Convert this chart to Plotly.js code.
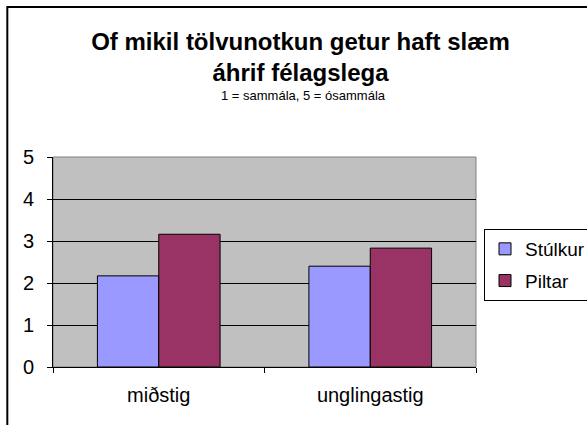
<!DOCTYPE html>
<html>
<head>
<meta charset="utf-8">
<script src="https://cdn.plot.ly/plotly-3.0.1.min.js"></script>
<style>
  body { margin: 0; background: #fff; }
  #chart { width: 587px; height: 425px; }
</style>
</head>
<body>
<div id="chart"></div>
<script>
var categories = ['miðstig', 'unglingastig'];
var seriesNames = ['Stúlkur', 'Piltar'];
var stulkur = [2.17, 2.40];
var piltar = [3.16, 2.83];
var yTicks = [0, 1, 2, 3, 4, 5];

const FONT = 'Liberation Sans, Arial, sans-serif';

var traces = [
	{
		x: categories,
		y: stulkur,
		name: seriesNames[0],
		type: 'bar',
		legendgroup: 'a',
		marker: { color: '#9999FF', line: { color: '#000', width: 1 } },
		hoverinfo: 'none',
	},
	{
		x: categories,
		y: piltar,
		name: seriesNames[1],
		type: 'bar',
		legendgroup: 'b',
		marker: { color: '#993366', line: { color: '#000', width: 1 } },
		hoverinfo: 'none',
	},
];

// plot area: x 53..476, y 157..367
const layout = {
	width: 587,
	height: 425,
	margin: { l: 53, r: 111, t: 157, b: 58, pad: 0, autoexpand: false },
	paper_bgcolor: '#fff',
	plot_bgcolor: '#C0C0C0',
	font: { family: FONT, size: 20, color: '#000' },
	title: {
		text: '<b>Of mikil tölvunotkun getur haft slæm<br>áhrif félagslega</b>',
		font: { family: FONT, size: 24, color: '#000' },
		xref: 'container',
		yref: 'container',
		x: 0.512,
		xanchor: 'center',
		y: 0.883,
		yanchor: 'middle',
	},
	annotations: [{
		text: '1 = sammála, 5 = ósammála',
		xref: 'paper',
		yref: 'paper',
		x: (303 - 53) / 423,
		y: (367 - 96) / 210,
		xanchor: 'center',
		yanchor: 'middle',
		showarrow: false,
		font: { family: FONT, size: 13, color: '#000' },
	}],
	barmode: 'group',
	bargap: 0.42,
	bargroupgap: 0,
	xaxis: {
		type: 'category',
		showgrid: false,
		showline: true,
		linecolor: '#000',
		linewidth: 1,
		ticks: 'outside',
		tickson: 'boundaries',
		ticklen: 5,
		tickcolor: '#000',
		ticklabelstandoff: 10,
		tickfont: { family: FONT, size: 20, color: '#000' },
		fixedrange: true,
	},
	yaxis: {
		range: [0, 5],
		tickvals: yTicks,
		showgrid: true,
		gridcolor: '#000',
		gridwidth: 1,
		zeroline: false,
		showline: true,
		linecolor: '#000',
		linewidth: 1,
		ticks: 'outside',
		ticklen: 5,
		tickcolor: '#000',
		ticklabelstandoff: 9,
		tickfont: { family: FONT, size: 20, color: '#000' },
		fixedrange: true,
	},
	showlegend: true,
	legend: {
		x: (484 - 53) / 423,
		y: (367 - 229) / 210,
		xanchor: 'left',
		yanchor: 'top',
		bordercolor: '#000',
		borderwidth: 1,
		bgcolor: '#fff',
		traceorder: 'grouped',
		tracegroupgap: 4,
		itemwidth: 30,
		font: { family: FONT, size: 19, color: '#000' },
	},
	shapes: [
		// plot area border
		{
			type: 'rect', xref: 'paper', yref: 'paper',
			x0: 0, x1: 1, y0: 0, y1: 1,
			line: { color: '#808080', width: 1 },
			layer: 'below',
		},
		// outer chart frame (clipped by the window)
		{
			type: 'path', xref: 'paper', yref: 'paper',
			path: 'M -0.108 -1 L -0.108 1.714 L 2 1.714',
			line: { color: '#000', width: 2 },
		},
	],
};

Plotly.newPlot('chart', traces, layout, { displayModeBar: false, staticPlot: true });
</script>
</body>
</html>
